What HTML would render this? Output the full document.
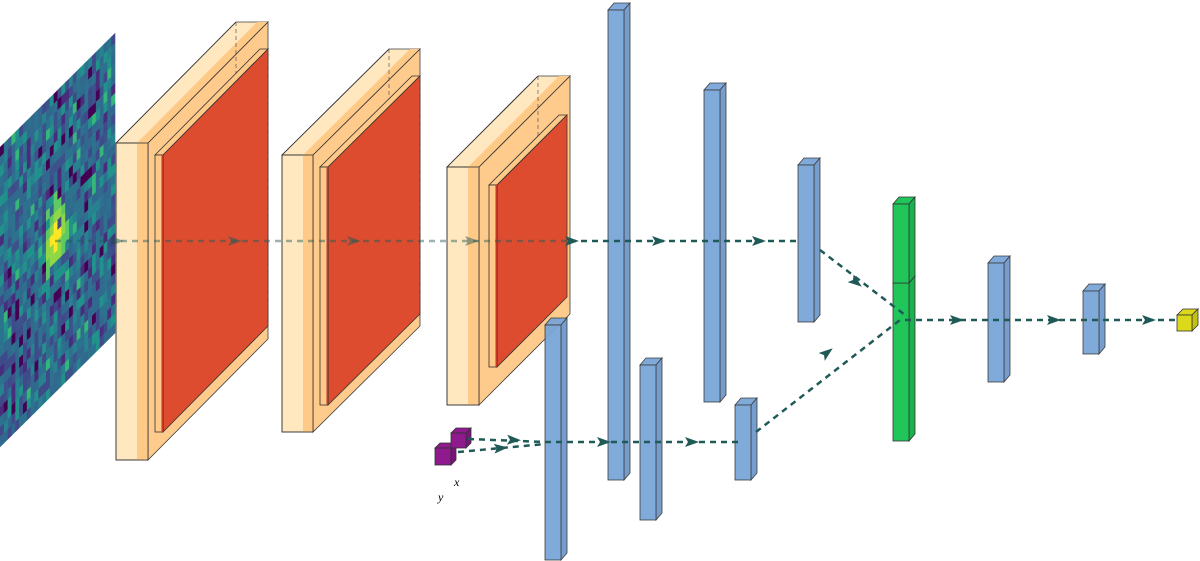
<!DOCTYPE html>
<html><head><meta charset="utf-8"><style>
html,body{margin:0;padding:0;background:#fff;width:1200px;height:561px;overflow:hidden}
svg{display:block}
</style></head><body>
<svg id="s" width="1200" height="561" xmlns="http://www.w3.org/2000/svg">
<g id="img" transform="matrix(1,-0.991,0,1,0,147)"></g>
<g id="g"></g>
<text x="454" y="486" font-family="Liberation Serif, serif" font-style="italic" font-size="12">x</text>
<text x="438" y="501" font-family="Liberation Serif, serif" font-style="italic" font-size="12">y</text>
</svg>
<script>
var img=document.getElementById('img');
var seed=7;function rnd(){seed=(seed*16807)%2147483647;return seed/2147483647;}
var cols=["#3b528b","#31688e","#2c728e","#26828e","#2c728e","#21918c","#31688e","#3e4a89"];
var N=30,cw=115/N,ch=300/N,h='';
for(var i=0;i<N;i++)for(var j=0;j<N;j++){
 var r=rnd(),c;
 if(r<0.04)c="#440154";else if(r<0.12)c="#472d7b";else if(r<0.97)c=cols[Math.floor(rnd()*8)];else c="#35b779";
 var dx=i-14,dy=j-14;var d=Math.sqrt(dx*dx+dy*dy*0.6);
 if(d<1.2)c="#fde725";else if(d<2.2&&rnd()<0.7)c="#8fd744";else if(d<3.2&&rnd()<0.5)c="#5ec962";
 h+='<rect x="'+(i*cw).toFixed(2)+'" y="'+(j*ch).toFixed(2)+'" width="'+(cw+0.3).toFixed(2)+'" height="'+(ch+0.3).toFixed(2)+'" fill="'+c+'"/>';
}
img.innerHTML=h;
var out='';
function P(pts){return pts.map(function(p){return p[0]+','+p[1]}).join(' ');}
function box(x,y,w,hh,dx,dy,front,top,side,op){
 op=op||1;
 var s='<g opacity="'+op+'">';
 s+='<polyline points="'+P([[x,y+hh],[x+dx,y+hh+dy],[x+dx,y+dy]])+'" fill="none" stroke="#333" stroke-width="0.7" stroke-dasharray="4,3"/>';
 s+='<line x1="'+(x+dx)+'" y1="'+(y+hh+dy)+'" x2="'+(x+w+dx)+'" y2="'+(y+hh+dy)+'" stroke="#333" stroke-width="0.7" stroke-dasharray="4,3"/>';
 s+='<polygon points="'+P([[x,y],[x+dx,y+dy],[x+w+dx,y+dy],[x+w,y]])+'" fill="'+top+'" stroke="#333" stroke-width="0.8"/>';
 s+='<polygon points="'+P([[x+w,y],[x+w+dx,y+dy],[x+w+dx,y+hh+dy],[x+w,y+hh]])+'" fill="'+side+'" stroke="#333" stroke-width="0.8"/>';
 s+='<rect x="'+x+'" y="'+y+'" width="'+w+'" height="'+hh+'" fill="'+front+'" stroke="#333" stroke-width="0.8"/>';
 s+='</g>';return s;
}
function conv(x,y,w1,w2,hh,dx,dy,rx,ry,rw,rh,rdx,rdy){
 var s='';
 s+=box(x,y,w1+w2,hh,dx,dy,"#ffe6bd","#ffe6bd","#ffc987",0.95);
 s+='<rect x="'+(x+w1)+'" y="'+y+'" width="'+w2+'" height="'+hh+'" fill="#ffc987" stroke="none"/>';
 s+='<polygon points="'+P([[x+w1,y],[x+w1+dx,y+dy],[x+w1+w2+dx,y+dy],[x+w1+w2,y]])+'" fill="#ffc987"/>';
 s+='<rect x="'+x+'" y="'+y+'" width="'+(w1+w2)+'" height="'+hh+'" fill="none" stroke="#333" stroke-width="0.8"/>';
 s+='<line x1="'+(x+w1+w2)+'" y1="'+y+'" x2="'+(x+w1+w2+dx)+'" y2="'+(y+dy)+'" stroke="#333" stroke-width="0.8"/>';
 s+='<line x1="'+x+'" y1="'+y+'" x2="'+(x+dx)+'" y2="'+(y+dy)+'" stroke="#333" stroke-width="0.8"/>';
 s+='<line x1="'+(x+dx)+'" y1="'+(y+dy)+'" x2="'+(x+dx)+'" y2="'+(y+hh+dy)+'" stroke="#555" stroke-width="0.7" stroke-dasharray="4,3"/>';
 s+=box(rx,ry,rw,rh,rdx,rdy,"#ffc987","#ffc987","#dd4c2f",1);
 s+='<rect x="'+(rx+rw-1.5)+'" y="'+ry+'" width="1.5" height="'+rh+'" fill="#c0392b"/>';
 s+='<line x1="'+(rx+rdx+rw)+'" y1="'+(ry+rdy)+'" x2="'+(rx+rdx+rw)+'" y2="'+(ry+rh+rdy)+'" stroke="#a33" stroke-width="0.7" stroke-dasharray="4,3" opacity="0.6"/>';
 return s;
}
out+=conv(116,143,21,11,317,120,-121, 155,155,8,277,105,-106);
out+=conv(282,155,21,10,277,107,-106, 320,167,8,238,92,-91);
out+=conv(447,167,21,11,238,91,-91, 489,185,8,182,70,-70);
var blue="#7aa6d8",bs="#6e98cc";
function bar(x,y,hh,f,sd){return box(x,y,16,hh,6,-7,f||blue,f||blue,sd||bs,0.95);}
out+=bar(608,10,470);
out+=bar(545,325,235);
out+=bar(640,365,155);
out+=bar(704,90,312);
out+=bar(735,405,75);
out+=bar(798,165,157);
out+=box(893,283,16,158,6,-7,"#20c65a","#20c65a","#1cb04f",1);
out+=box(893,204,16,79,6,-7,"#20c65a","#20c65a","#1cb04f",1);
out+=bar(988,263,119);
out+=bar(1083,291,63);
out+=box(1177,315,15,16,6,-6,"#dcd81a","#dcd81a","#c4c010",1);
out+=box(435,448,16,17,5,-5,"#8e1a8e","#8e1a8e","#7a137a",1);
out+=box(451,433,15,15,5,-5,"#8e1a8e","#8e1a8e","#7a137a",1);
var lc="#1f5a57";
function L(x1,y1,x2,y2,o){return '<line x1="'+x1+'" y1="'+y1+'" x2="'+x2+'" y2="'+y2+'" stroke="'+lc+'" stroke-width="2.5" stroke-dasharray="6,5" opacity="'+(o||1)+'"/>';}
function A(x,y,ang,o){return '<polygon points="-8,-5 6,0 -8,5 -5,0" fill="'+lc+'" opacity="'+(o||1)+'" transform="translate('+x+','+y+') rotate('+ang+')"/>';}
out+=L(55,241,570,241,0.45);
out+=L(570,241,800,241);
out+=L(820,250,905,315);
out+=L(905,320,1178,320);
out+=L(468,439,545,442);out+=L(458,452,545,444);
out+=L(545,442,738,442,1);
out+=L(756,432,900,320);
[[118,241],[236,241],[355,241],[473,241]].forEach(function(p){out+=A(p[0],p[1],0,0.5)});
[[573,241],[660,241],[760,241],[958,320],[1055,320],[1150,320],[605,442],[693,442]].forEach(function(p){out+=A(p[0],p[1],0)});
out+=A(857,283,37);out+=A(828,352,-38);
out+=A(515,440,2);out+=A(502,448,-5);
document.getElementById('g').innerHTML=out;
</script>
</body></html>
